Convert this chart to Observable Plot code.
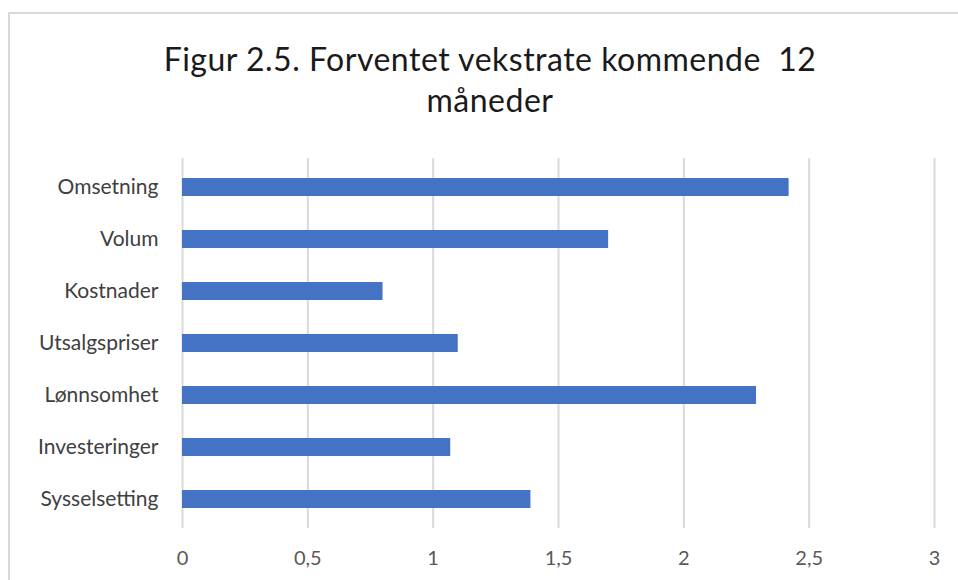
<!DOCTYPE html>
<html>
<head>
<meta charset="utf-8">
<script src="https://cdn.jsdelivr.net/npm/d3@7"></script>
<script src="https://cdn.jsdelivr.net/npm/@observablehq/plot@0.6"></script>
<style>
  html, body { margin: 0; padding: 0; background: #fff; width: 958px; height: 580px; overflow: hidden; }
  #frame { position: absolute; left: 8px; top: 12px; width: 960px; height: 580px;
           border-top: 2px solid #d9d9d9; border-left: 2px solid #d9d9d9; }
  #title { position: absolute; left: 0; top: 38px; width: 980px; text-align: center;
           font-family: Lato, "Open Sans", sans-serif; font-size: 32px; letter-spacing: 0.5px; line-height: 41px; color: #1a1a1a; }
  #chart { position: absolute; left: 0; top: 140px; }
</style>
</head>
<body>
<div id="frame"></div>
<div id="title">Figur 2.5. Forventet vekstrate kommende&nbsp; 12<br>måneder</div>
<div id="chart"></div>
<script>
const categories = ["Omsetning", "Volum", "Kostnader", "Utsalgspriser", "Lønnsomhet", "Investeringer", "Sysselsetting"];
const values = [2.42, 1.70, 0.80, 1.10, 2.29, 1.07, 1.39];
const xTicks = [0, 0.5, 1, 1.5, 2, 2.5, 3];

const data = categories.map((c, i) => ({category: c, value: values[i]}));

const chart = Plot.plot({
  width: 958,
  height: 440,
  marginLeft: 182,
  marginRight: 24,
  marginTop: 18,
  marginBottom: 52,
  style: {fontFamily: "Lato, 'Open Sans', sans-serif", fontSize: "20px", background: "transparent", overflow: "visible"},
  x: {domain: [0, 3], ticks: xTicks, tickFormat: d => String(d).replace(".", ",")},
  y: {domain: categories, paddingInner: 0.66, paddingOuter: 0.33},
  marks: [
    Plot.gridX(xTicks, {stroke: "#d9d9d9", strokeOpacity: 1, strokeWidth: 2}),
    Plot.barX(data, {x: "value", y: "category", fill: "#4472C4"}),
    Plot.axisX({ticks: xTicks, tickSize: 0, tickPadding: 22, label: null, fill: "#595959",
                tickFormat: d => String(d).replace(".", ","), fontSize: 20}),
    Plot.axisY({tickSize: 0, tickPadding: 24, label: null, fill: "#404040", fontSize: 21})
  ]
});
document.getElementById("chart").appendChild(chart);
</script>
</body>
</html>
